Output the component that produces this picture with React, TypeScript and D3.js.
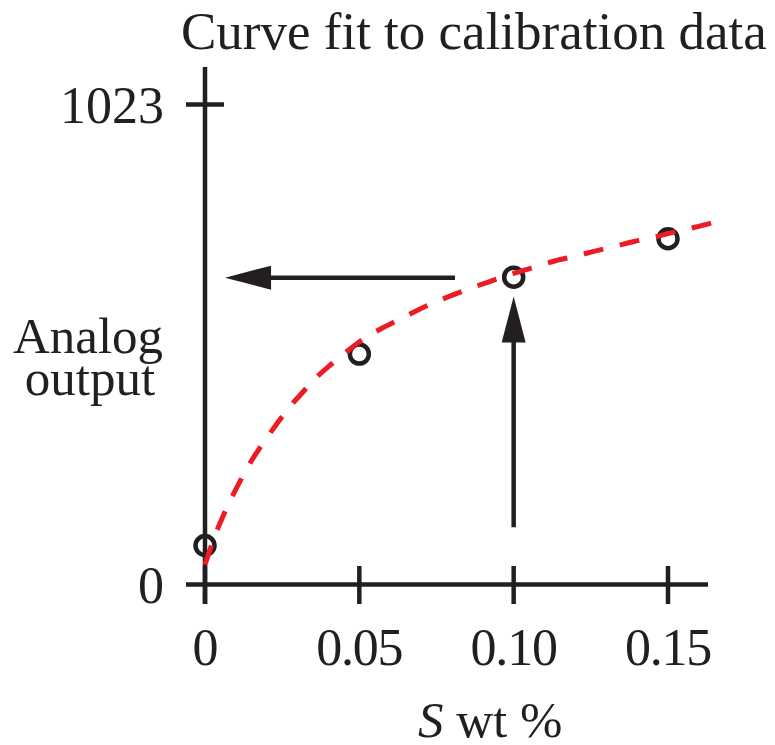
import React from "react";
import * as d3 from "d3";

// ---- data ----
const title = "Curve fit to calibration data";
const xTicks = [0, 0.05, 0.1, 0.15];
const xTickLabels = ["0", "0.05", "0.10", "0.15"];
const yTicks = [0, 1023];
const yTickLabels = ["0", "1023"];
const yLabelLines = ["Analog", "output"];
const calX = [0, 0.05, 0.1, 0.15];
const calY = [83, 491, 655, 737];
const fitX = [0, 0.003, 0.006, 0.009, 0.012, 0.015, 0.019, 0.023, 0.027, 0.031, 0.036, 0.041, 0.046, 0.051, 0.057, 0.063, 0.069, 0.075, 0.081, 0.088, 0.094, 0.1, 0.107, 0.113, 0.12, 0.126, 0.133, 0.139, 0.146, 0.152, 0.159, 0.165, 0.168];
const fitY = [42, 100, 148, 190, 228, 263, 303, 340, 375, 405, 441, 470, 497, 522, 545, 565, 585, 603, 619, 636, 650, 663, 677, 689, 700, 710, 721, 731, 741, 751, 762, 772, 778];
// read-out arrows: from x=0.10 up to the curve, then left to the axis
const readX = 0.1;
const readY = 654;
const upArrowFrom = 122; // value where vertical arrow starts
const leftArrowFrom = 0.081; // x where horizontal arrow starts
const leftArrowTo = 0.0065;
const upArrowTo = 614;

const INK = "#231f20";
const RED = "#ed1c24";
const FONT = "'Liberation Serif', 'Times New Roman', serif";

export default function App() {
  const x = d3.scaleLinear().domain([0, 0.15]).range([205, 668]);
  const y = d3.scaleLinear().domain([0, 1023]).range([584.5, 104.5]);

  const fitData = fitX.map((v, i) => [v, fitY[i]] as [number, number]);
  const line = d3
    .line<[number, number]>()
    .x((d) => x(d[0]))
    .y((d) => y(d[1]))
    .curve(d3.curveMonotoneX);

  const axisX0 = 205;
  const axisY0 = y(0);

  // horizontal arrow
  const hy = y(readY);
  const hTip = x(leftArrowTo);
  const hStart = x(leftArrowFrom);
  const headL = 46;
  const headW = 12;
  // vertical arrow
  const vx = x(readX);
  const vTip = y(upArrowTo);
  const vStart = y(upArrowFrom);

  return (
    <svg
      width={775}
      height={745}
      style={{ position: "absolute", left: 0, top: 0, background: "#fff" }}
      fontFamily={FONT}
    >
      <rect x={0} y={0} width={775} height={745} fill="#fff" />
      <text x={181} y={49} fontSize={53} fill={INK}>
        {title}
      </text>

      {/* axes */}
      <line x1={axisX0} x2={axisX0} y1={67} y2={604} stroke={INK} strokeWidth={4.5} />
      <line x1={186} x2={708} y1={axisY0} y2={axisY0} stroke={INK} strokeWidth={4.5} />

      {yTicks.map((t, i) => (
        <g key={"yt" + i}>
          {t !== 0 && (
            <line x1={186} x2={224} y1={y(t)} y2={y(t)} stroke={INK} strokeWidth={4.5} />
          )}
          <text
            x={164}
            y={y(t)}
            dy="0.35em"
            fontSize={52}
            textAnchor="end"
            fill={INK}
          >
            {yTickLabels[i]}
          </text>
        </g>
      ))}

      {xTicks.map((t, i) => (
        <g key={"xt" + i}>
          <line x1={x(t)} x2={x(t)} y1={566} y2={604} stroke={INK} strokeWidth={4.5} />
          <text
            x={x(t)}
            y={665}
            fontSize={52}
            textAnchor="middle"
            letterSpacing={-1.2}
            fill={INK}
          >
            {xTickLabels[i]}
          </text>
        </g>
      ))}

      {/* axis labels */}
      <text x={88} y={353} fontSize={51} textAnchor="middle" fill={INK}>
        <tspan x={88} y={353}>{yLabelLines[0]}</tspan>
        <tspan x={90} y={395}>{yLabelLines[1]}</tspan>
      </text>
      <text x={418} y={737} fontSize={51} fill={INK}>
        <tspan fontStyle="italic">S</tspan>
        <tspan> wt %</tspan>
      </text>

      {/* arrows */}
      <line x1={hStart} x2={hTip + headL - 2} y1={hy} y2={hy} stroke={INK} strokeWidth={4.5} />
      <polygon
        points={`${hTip},${hy} ${hTip + headL},${hy - headW} ${hTip + headL},${hy + headW}`}
        fill={INK}
      />
      <line x1={vx} x2={vx} y1={vStart} y2={vTip + headL - 2} stroke={INK} strokeWidth={4.5} />
      <polygon
        points={`${vx},${vTip} ${vx - headW},${vTip + headL} ${vx + headW},${vTip + headL}`}
        fill={INK}
      />

      {/* calibration points */}
      {calX.map((v, i) => (
        <circle
          key={"p" + i}
          cx={x(v)}
          cy={y(calY[i])}
          r={9.5}
          fill="none"
          stroke={INK}
          strokeWidth={4.5}
        />
      ))}

      {/* fitted curve */}
      <path
        d={line(fitData) || ""}
        fill="none"
        stroke={RED}
        strokeWidth={5}
        strokeDasharray="20 17"
      />
    </svg>
  );
}
